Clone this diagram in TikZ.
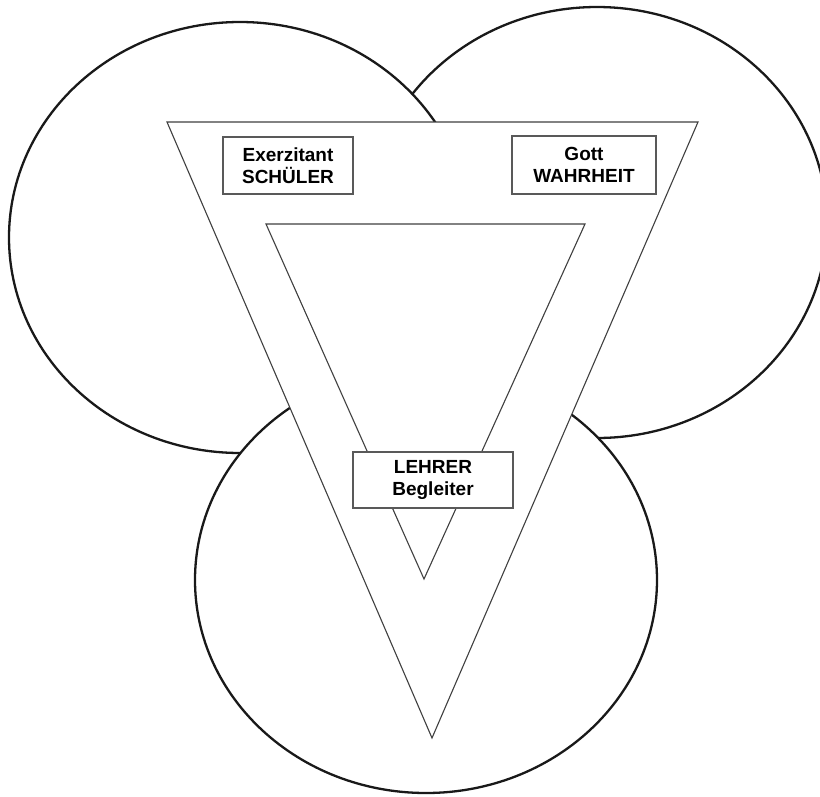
\documentclass[tikz,border=0pt]{standalone}
\usepackage{fontspec}
\setmainfont{Liberation Sans}
\begin{document}
\begin{tikzpicture}[x=1pt,y=-1pt,
  ring/.style={draw=black!90,fill=white,line width=2.3pt},
  tri/.style={draw=black!75,fill=white,line width=1.1pt,line join=miter},
  label box/.style={draw=black!65,fill=white,line width=1.4pt,align=center,
    inner sep=0pt,font=\fontsize{19}{22}\selectfont\bfseries}]
\useasboundingbox (0,0) rectangle (820,796);
% circles (back to front)
\draw[ring] (597,222.5) ellipse [x radius=230pt, y radius=215.5pt];
\draw[ring] (240,237.5) ellipse [x radius=231pt, y radius=215.5pt];
\draw[ring] (426,580) ellipse [x radius=231pt, y radius=213pt];
% triangles
\coordinate (o1) at (167,122);
\coordinate (o2) at (698,122);
\coordinate (o3) at (432,738);
\coordinate (i1) at (266,224);
\coordinate (i2) at (585,224);
\coordinate (i3) at (424,579);
\draw[tri] (o1) -- (o2) -- (o3) -- cycle;
\draw[tri] (i1) -- (i2) -- (i3) -- cycle;
% labels
\node[label box, minimum width=130pt, minimum height=57pt] (schueler) at (288,165.5) {Exerzitant\\SCHÜLER};
\node[label box, minimum width=144pt, minimum height=58pt] (gott) at (584,165) {Gott\\WAHRHEIT};
\node[label box, minimum width=160pt, minimum height=56pt] (lehrer) at (433,480) {LEHRER\\Begleiter};
\end{tikzpicture}
\end{document}
